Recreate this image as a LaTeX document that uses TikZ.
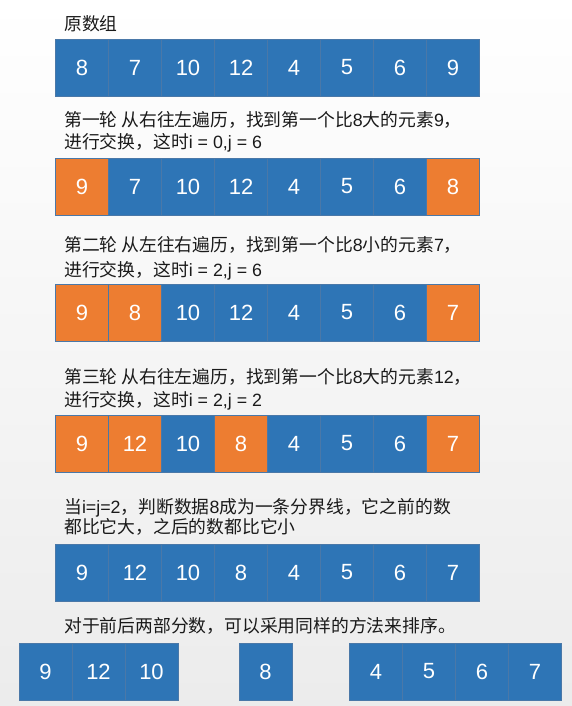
\documentclass[tikz,border=0pt]{standalone}
\usepackage{fontspec}
\setmainfont{Liberation Sans}
\newfontfamily\cjk{Noto Sans CJK SC}
\definecolor{azul}{HTML}{2E75B6}
\definecolor{laranja}{HTML}{ED7D31}
\definecolor{borda}{HTML}{4A78A8}
\definecolor{texto}{HTML}{1A1A1A}
\begin{document}
\begin{tikzpicture}[x=1pt, y=-1pt,
    celula/.style={draw=borda, line width=0.5pt, minimum width=53pt, minimum height=57pt,
                   inner sep=0pt, outer sep=0pt, text=white, font=\fontsize{22}{26}\selectfont},
    legenda/.style={anchor=base west, inner sep=0pt, text=texto, font=\fontsize{17.8}{21}\selectfont}]
    \useasboundingbox (0,0) rectangle (572,706);

    % Fundo em degradê
    \shade[top color=white, middle color=gray!3, bottom color=gray!15] (0,0) rectangle (572,706);

    % Array original
    \node[legenda] (t1) at (64,30.1) {\cjk 原数组};
    \foreach \v/\c [count=\k] in {8/azul,7/azul,10/azul,12/azul,4/azul,5/azul,6/azul,9/azul}
        \node[celula, fill=\c] (a\k) at (29+53*\k,67.5) {\v};

    % Primeira rodada
    \node[legenda] (t2a) at (64,126.8) {{\cjk 第一轮 从右往左遍历，找到第一个比}8{\cjk 大的元素}9{\cjk ，}};
    \node[legenda] (t2b) at (64,148.8) {{\cjk 进行交换，这时}i = 0,j = 6};
    \foreach \v/\c [count=\k] in {9/laranja,7/azul,10/azul,12/azul,4/azul,5/azul,6/azul,8/laranja}
        \node[celula, fill=\c] (b\k) at (29+53*\k,186.5) {\v};

    % Segunda rodada
    \node[legenda] (t3a) at (64,251.8) {{\cjk 第二轮 从左往右遍历，找到第一个比}8{\cjk 小的元素}7{\cjk ，}};
    \node[legenda] (t3b) at (64,276.3) {{\cjk 进行交换，这时}i = 2,j = 6};
    \foreach \v/\c [count=\k] in {9/laranja,8/laranja,10/azul,12/azul,4/azul,5/azul,6/azul,7/laranja}
        \node[celula, fill=\c] (c\k) at (29+53*\k,312.5) {\v};

    % Terceira rodada
    \node[legenda] (t4a) at (64,383.8) {{\cjk 第三轮 从右往左遍历，找到第一个比}8{\cjk 大的元素}12{\cjk ，}};
    \node[legenda] (t4b) at (64,406.8) {{\cjk 进行交换，这时}i = 2,j = 2};
    \foreach \v/\c [count=\k] in {9/laranja,12/laranja,10/azul,8/laranja,4/azul,5/azul,6/azul,7/laranja}
        \node[celula, fill=\c] (d\k) at (29+53*\k,443.5) {\v};

    % Linha divisória no 8
    \node[legenda] (t5a) at (64,513.3) {{\cjk 当}i=j=2{\cjk ，判断数据}8{\cjk 成为一条分界线，它之前的数}};
    \node[legenda] (t5b) at (64,533.3) {\cjk 都比它大，之后的数都比它小};
    \foreach \v [count=\k] in {9,12,10,8,4,5,6,7}
        \node[celula, fill=azul] (e\k) at (29+53*\k,572.5) {\v};

    % Partes separadas
    \node[legenda] (t6) at (64,632.8) {\cjk 对于前后两部分数，可以采用同样的方法来排序。};
    \foreach \v [count=\k] in {9,12,10}
        \node[celula, fill=azul] (f\k) at (-7.5+53*\k,671.5) {\v};
    \node[celula, fill=azul] (f4) at (265.5,671.5) {8};
    \foreach \v [count=\k from 5] in {4,5,6,7}
        \node[celula, fill=azul] (f\k) at (111+53*\k,671.5) {\v};
\end{tikzpicture}
\end{document}
